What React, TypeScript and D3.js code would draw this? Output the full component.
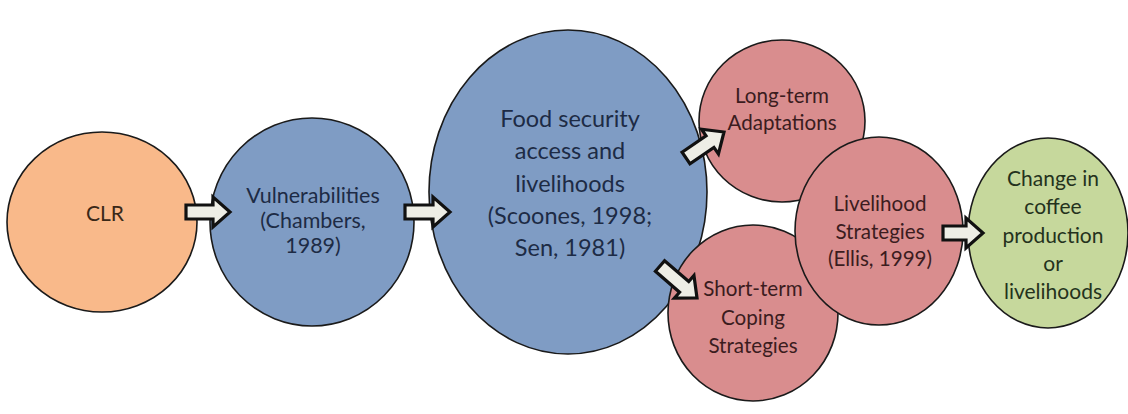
import * as d3 from "d3";

// node labels (one entry per text line)
const nodeIds = ["clr", "vuln", "food", "long", "short", "liveli", "change"];
const nodeLabels: string[][] = [
  ["CLR"],
  ["Vulnerabilities", "(Chambers,", "1989)"],
  ["Food security", "access and", "livelihoods", "(Scoones, 1998;", "Sen, 1981)"],
  ["Long-term", "Adaptations"],
  ["Short-term", "Coping", "Strategies"],
  ["Livelihood", "Strategies", "(Ellis, 1999)"],
  ["Change in", "coffee", "production", "or", "livelihoods"],
];
const nodeGroups = ["orange", "blue", "blue", "red", "red", "red", "green"];
const links: [string, string][] = [
  ["clr", "vuln"],
  ["vuln", "food"],
  ["food", "long"],
  ["food", "short"],
  ["liveli", "change"],
];

// layout (pixel positions of the diagram)
const layout: Record<string, { cx: number; cy: number; rx: number; ry: number; ty: number; fs: number; lh: number }> = {
  clr: { cx: 102, cy: 222, rx: 95, ry: 90, ty: 212, fs: 21, lh: 25 },
  vuln: { cx: 312, cy: 222, rx: 102, ry: 104, ty: 195, fs: 21.5, lh: 25 },
  food: { cx: 568, cy: 192, rx: 139, ry: 162, ty: 118, fs: 23.5, lh: 32.3 },
  long: { cx: 782, cy: 121, rx: 83, ry: 81, ty: 95, fs: 20.6, lh: 27 },
  short: { cx: 753, cy: 313, rx: 85, ry: 88, ty: 288, fs: 20.6, lh: 28.5 },
  liveli: { cx: 879, cy: 231, rx: 84, ry: 94, ty: 203, fs: 20.6, lh: 27.5 },
  change: { cx: 1048, cy: 233, rx: 80, ry: 95, ty: 177, fs: 21, lh: 28.3 },
};
const textX: Record<string, number> = {
  clr: 105, vuln: 313, food: 570, long: 782, short: 753, liveli: 880, change: 1053,
};
const arrowEnds: Record<string, [number, number, number, number]> = {
  "clr-vuln": [186, 212, 230, 212],
  "vuln-food": [405, 212, 450, 212],
  "food-long": [686, 158, 724, 132],
  "food-short": [660, 266, 697, 298],
  "liveli-change": [943, 233, 983, 233],
};

const color = d3
  .scaleOrdinal<string>()
  .domain(["orange", "blue", "red", "green"])
  .range(["#f9b98a", "#7f9cc4", "#d98d8e", "#c6d89c"]);
const textColor = d3
  .scaleOrdinal<string>()
  .domain(["orange", "blue", "red", "green"])
  .range(["#3a2818", "#1d2b45", "#3b1c1e", "#24321c"]);

function arrowPath(len: number) {
  const sh = 7;
  const hh = 15;
  const hl = 17;
  const p = d3.path();
  p.moveTo(0, -sh);
  p.lineTo(len - hl, -sh);
  p.lineTo(len - hl, -hh);
  p.lineTo(len, 0);
  p.lineTo(len - hl, hh);
  p.lineTo(len - hl, sh);
  p.lineTo(0, sh);
  p.closePath();
  return p.toString();
}

const App = () => {
  const width = 1128;
  const height = 414;
  return (
    <svg
      width={width}
      height={height}
      viewBox={`0 0 ${width} ${height}`}
      style={{ position: "absolute", left: 0, top: 0, background: "#fff" }}
      fontFamily="Lato, 'Open Sans', sans-serif"
    >
      {nodeIds.map((id, i) => {
        const l = layout[id];
        return (
          <g key={id}>
            <ellipse
              cx={l.cx}
              cy={l.cy}
              rx={l.rx}
              ry={l.ry}
              fill={color(nodeGroups[i])}
              stroke="#1a1a1a"
              strokeWidth={1.6}
            />
            <text
              x={textX[id]}
              y={l.ty}
              fontSize={l.fs}
              textAnchor="middle"
              dominantBaseline="central"
              fill={textColor(nodeGroups[i])}
            >
              {nodeLabels[i].map((line, j) => (
                <tspan key={j} x={textX[id]} y={l.ty + j * l.lh}>
                  {line}
                </tspan>
              ))}
            </text>
          </g>
        );
      })}
      {links.map(([s, t]) => {
        const [x1, y1, x2, y2] = arrowEnds[`${s}-${t}`];
        const len = Math.hypot(x2 - x1, y2 - y1);
        const ang = (Math.atan2(y2 - y1, x2 - x1) * 180) / Math.PI;
        return (
          <path
            key={`${s}-${t}`}
            d={arrowPath(len)}
            transform={`translate(${x1},${y1}) rotate(${ang})`}
            fill="#eeeee6"
            stroke="#111"
            strokeWidth={3.2}
            strokeLinejoin="miter"
          />
        );
      })}
    </svg>
  );
};

export default App;
